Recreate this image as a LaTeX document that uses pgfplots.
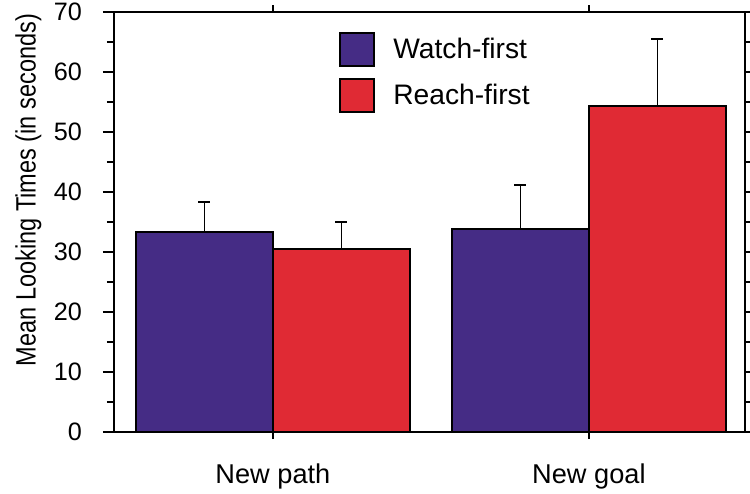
\documentclass[border=0pt]{standalone}
\usepackage{fontspec}
\setmainfont{Liberation Sans}
\usepackage{graphicx}
\usepackage{pgfplots}
\pgfplotsset{compat=1.18}
\definecolor{wpurple}{RGB}{69,44,133}
\definecolor{rred}{RGB}{224,42,52}
\pgfplotsset{mylegend/.style={legend image code/.code={\draw[##1,draw=black,line width=1pt] (0pt,-8.25pt) rectangle (17pt,8.25pt);}}}
\begin{document}
\begin{tikzpicture}
\begin{axis}[
  at={(0,0)}, anchor=south west,
  scale only axis, width=315.5pt, height=210pt,
  xmin=-0.503, xmax=1.494, ymin=0, ymax=70,
  ybar=0pt, bar width=68.5pt,
  xtick={0,1}, xticklabels={New path, New goal},
  ytick={0,10,...,70}, minor y tick num=1,
  tick align=outside,
  major tick length=5.5pt, minor tick length=3.5pt,
  xtick style={/pgfplots/major tick length=3.5pt},
  axis line style={line width=1pt},
  every tick/.style={black, line width=1pt},
  /pgf/number format/assume math mode=true,
  yticklabel style={font=\fontsize{12.6}{15}\selectfont, xshift=-7pt},
  xticklabel style={font=\fontsize{13.6}{16}\selectfont, yshift=-7pt},
  ylabel={\scalebox{0.84}[1]{Mean Looking Times (in seconds)}},
  ylabel style={at={(axis description cs:-0.157,0.576)}, anchor=north, inner sep=0pt, font=\fontsize{14}{16}\selectfont},
  legend style={draw=none, fill=none, at={(axis description cs:0.3565,0.953)}, anchor=north west, inner sep=0pt, font=\fontsize{14.1}{17}\selectfont, row sep=5.5pt, /tikz/every odd column/.append style={column sep=7pt}},
  legend cell align=left,
]
\addplot[fill=wpurple, draw=black, line width=1pt, mylegend,
  error bars/.cd, y dir=plus, y explicit,
  error bar style={line width=0.9pt, black},
  error mark options={rotate=90, line width=0.9pt, mark size=3pt, black}]
  coordinates {(0,33.4) +- (0,4.9) (1,33.8) +- (0,7.4)};
\addplot[fill=rred, draw=black, line width=1pt, mylegend,
  error bars/.cd, y dir=plus, y explicit,
  error bar style={line width=0.9pt, black},
  error mark options={rotate=90, line width=0.9pt, mark size=3pt, black}]
  coordinates {(0,30.5) +- (0,4.45) (1,54.3) +- (0,11.2)};
\legend{Watch-first, Reach-first}
\end{axis}
\pgfresetboundingbox
\path (-57pt,-30.5pt) rectangle (318pt,216pt);
\end{tikzpicture}
\end{document}
